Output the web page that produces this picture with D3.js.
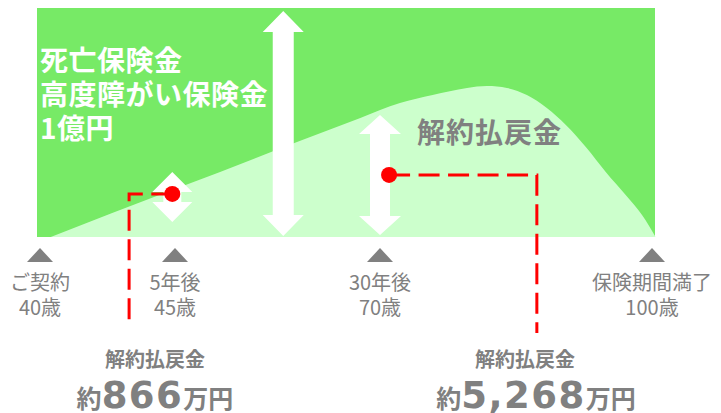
<!DOCTYPE html>
<html lang="ja">
<head>
<meta charset="utf-8">
<script src="https://cdn.jsdelivr.net/npm/d3@7"></script>
<style>
  html, body { margin: 0; padding: 0; background: #fff; }
  #chart { width: 721px; height: 413px; }
  text { font-family: "Noto Sans CJK JP", "Noto Sans", sans-serif; }
</style>
</head>
<body>
<div id="chart"></div>
<script>
// 目盛り(年齢)とラベル
const tickAges = [40, 45, 70, 100];
const tickLine1 = ["ご契約", "5年後", "30年後", "保険期間満了"];
const tickLine2 = ["40歳", "45歳", "70歳", "100歳"];

// 解約払戻金のカーブ (年齢, 高さ 0-100)
const curveAges = [40.4, 44.9, 50.5, 60.2, 67.6, 72.2, 75.8, 79.6, 81.8, 84.0, 86.2, 88.4, 90.5, 92.7, 94.9, 97.1, 98.9, 100.4];
const curveValues = [0, 20.5, 28.4, 41.9, 52.0, 58.5, 62.0, 65.1, 65.9, 65.1, 62.0, 56.3, 48.9, 39.3, 28.4, 18.3, 9.6, 0];

// 赤い点と金額
const pointAges = [44.9, 71];
const pointValues = [18.8, 27.1];
const leaderAges = [43.3, 87.3];
const amountTexts = ["866", "5,268"];

// 白い矢印 (年齢, 上端, 下端)
const arrowAges = [44.9, 58.2, 70];
const arrowTops = [28.4, 98.7, 53.3];
const arrowBottoms = [6.6, 0.4, 0.9];

const createChart = () => {
    const W = 721, H = 413;
    const plot = { left: 37, right: 655, top: 8, bottom: 237 };
    const gray = "#808080";

    const svg = d3.select("#chart").append("svg")
        .attr("width", W)
        .attr("height", H);

    const x = d3.scaleLinear().domain(tickAges).range([40, 175, 380, 652]);
    const y = d3.scaleLinear().domain([0, 100]).range([plot.bottom, plot.top]);

    // 背景(死亡保険金)
    svg.append("rect")
        .attr("x", plot.left)
        .attr("y", plot.top)
        .attr("width", plot.right - plot.left)
        .attr("height", plot.bottom - plot.top)
        .attr("fill", "#77ea66");

    // 解約払戻金エリア
    const curve = curveAges.map((a, i) => ({ age: a, v: curveValues[i] }));
    const area = d3.area()
        .x(d => x(d.age))
        .y0(y(0))
        .y1(d => y(d.v))
        .curve(d3.curveMonotoneX);

    svg.append("path")
        .datum(curve)
        .attr("d", area)
        .attr("fill", "#ccffcc");

    // 白い両矢印
    const arrowSpec = [
        { headW: 40, headH: 20, shaftW: 18 },
        { headW: 41, headH: 21, shaftW: 21 },
        { headW: 42, headH: 19, shaftW: 20 }
    ];
    const arrowPath = (cx, y1, y2, s) => {
        const hw = s.headW / 2, sw = s.shaftW / 2, hh = s.headH;
        return `M${cx},${y1} L${cx + hw},${y1 + hh} L${cx + sw},${y1 + hh} L${cx + sw},${y2 - hh} `
            + `L${cx + hw},${y2 - hh} L${cx},${y2} L${cx - hw},${y2 - hh} L${cx - sw},${y2 - hh} `
            + `L${cx - sw},${y1 + hh} L${cx - hw},${y1 + hh} Z`;
    };
    svg.selectAll(".arrow")
        .data(arrowAges)
        .enter()
        .append("path")
        .attr("class", "arrow")
        .attr("d", (a, i) => arrowPath(x(a), y(arrowTops[i]), y(arrowBottoms[i]), arrowSpec[i]))
        .attr("fill", "#fff");

    // テキスト(グラフ内)
    ["死亡保険金", "高度障がい保険金", "1億円"].forEach((t, i) => {
        svg.append("text")
            .attr("x", plot.left + 3)
            .attr("y", [71, 105, 139][i])
            .attr("fill", "#fff")
            .style("font-size", "28px")
            .style("font-weight", "700")
            .style("letter-spacing", "0.5px")
            .text(t);
    });

    svg.append("text")
        .attr("x", 417)
        .attr("y", 143)
        .attr("fill", gray)
        .style("font-size", "28px")
        .style("font-weight", "700")
        .style("letter-spacing", "1px")
        .text("解約払戻金");

    // 引き出し線(破線)
    const leaderEnds = [320, 333];
    svg.selectAll(".leader")
        .data(pointAges)
        .enter()
        .append("path")
        .attr("class", "leader")
        .attr("d", (a, i) => {
            const px = x(a), py = y(pointValues[i]), cx = x(leaderAges[i]);
            return `M${px},${py} L${cx},${py} L${cx},${leaderEnds[i]}`;
        })
        .attr("fill", "none")
        .attr("stroke", "#ff0000")
        .attr("stroke-width", 3)
        .attr("stroke-dasharray", "21,8.5");

    svg.selectAll(".dot")
        .data(pointAges)
        .enter()
        .append("circle")
        .attr("class", "dot")
        .attr("cx", d => x(d))
        .attr("cy", (d, i) => y(pointValues[i]))
        .attr("r", 8)
        .attr("fill", "#ff0000");

    // 目盛りの三角
    svg.selectAll(".tri")
        .data(tickAges)
        .enter()
        .append("path")
        .attr("class", "tri")
        .attr("d", d => `M${x(d)},248 L${x(d) + 13},262 L${x(d) - 13},262 Z`)
        .attr("fill", gray);

    [tickLine1, tickLine2].forEach((lines, k) => {
        svg.selectAll(".tick-label-" + k)
            .data(tickAges)
            .enter()
            .append("text")
            .attr("class", "tick-label-" + k)
            .attr("x", d => x(d))
            .attr("y", [290, 315][k])
            .attr("text-anchor", "middle")
            .attr("fill", gray)
            .style("font-size", "20px")
            .text((d, i) => lines[i]);
    });

    // 下部の金額
    const titleX = [155, 525];
    const amountX = [155, 536];
    svg.selectAll(".amount-title")
        .data(amountTexts)
        .enter()
        .append("text")
        .attr("class", "amount-title")
        .attr("x", (d, i) => titleX[i])
        .attr("y", 367)
        .attr("text-anchor", "middle")
        .attr("fill", gray)
        .style("font-size", "20px")
        .style("font-weight", "700")
        .text("解約払戻金");

    const amounts = svg.selectAll(".amount")
        .data(amountTexts)
        .enter()
        .append("text")
        .attr("class", "amount")
        .attr("x", (d, i) => amountX[i])
        .attr("y", 408)
        .attr("text-anchor", "middle")
        .attr("fill", gray)
        .style("font-weight", "700");
    amounts.append("tspan").style("font-size", "25px").text("約");
    amounts.append("tspan")
        .style("font-family", "'DejaVu Sans', sans-serif")
        .style("font-size", "37px")
        .style("letter-spacing", "1.5px")
        .text(d => d);
    amounts.append("tspan").style("font-size", "25px").text("万円");
};

if (document.readyState === "loading") {
    document.addEventListener("DOMContentLoaded", createChart);
} else {
    createChart();
}
</script>
</body>
</html>
